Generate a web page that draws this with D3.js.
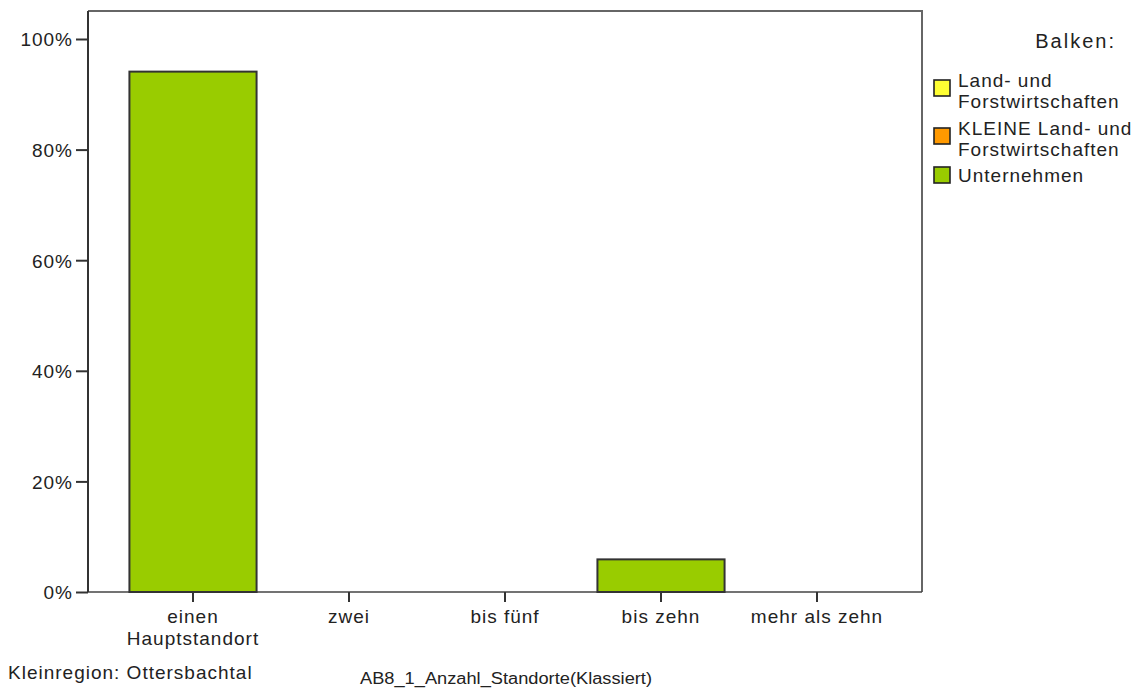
<!DOCTYPE html>
<html><head><meta charset="utf-8">
<script src="https://cdn.jsdelivr.net/npm/d3@7"></script>
<style>body{margin:0;background:#fff}svg{display:block;font-family:"Liberation Sans",Arial,sans-serif}</style>
</head><body><svg id="c" width="1138" height="688"></svg>
<script>
const categories = [["einen","Hauptstandort"],["zwei"],["bis fünf"],["bis zehn"],["mehr als zehn"]];
const unternehmen = [94.1, 0, 0, 5.9, 0];
const yTicks = [0,20,40,60,80,100];
const legendItems = [
  {lines:["Land- und","Forstwirtschaften"], color:"#ffff33"},
  {lines:["KLEINE Land- und","Forstwirtschaften"], color:"#ff9900"},
  {lines:["Unternehmen"], color:"#99cc00"}
];
const legendTitle = "Balken:";
const footLeft = "Kleinregion: Ottersbachtal";
const xTitle = "AB8_1_Anzahl_Standorte(Klassiert)";

const FONT = "Liberation Sans, Arial, sans-serif";
const svg = d3.select("#c");
const L=88, R=922, T=11, B=592;
const x = d3.scaleBand().domain(d3.range(categories.length)).range([L+27,R-27]).paddingInner(0.185).paddingOuter(0.0925);
const y = d3.scaleLinear().domain([0,100]).range([B,39]);

// frame
svg.append("path").attr("d",`M${L},${T}H${R}V${B}`).attr("fill","none").attr("stroke","#666").attr("stroke-width",2);
svg.append("line").attr("x1",L).attr("x2",R).attr("y1",B).attr("y2",B).attr("stroke","#444").attr("stroke-width",1.5);

// bars
svg.append("g").selectAll("rect").data(unternehmen).join("rect")
  .attr("x",(d,i)=>x(i)).attr("width",x.bandwidth())
  .attr("y",d=>y(d)).attr("height",d=>B-y(d))
  .attr("fill","#99cc00").attr("stroke","#333").attr("stroke-width",2);

// y axis
const ya = svg.append("g").attr("transform",`translate(${L},0)`)
  .call(d3.axisLeft(y).tickValues(yTicks).tickFormat(d=>d+"%").tickSize(12).tickPadding(3));
ya.select(".domain").attr("d",`M0,${T}V${B}`).attr("stroke","#333").attr("stroke-width",2);
ya.selectAll(".tick line").attr("stroke","#333").attr("stroke-width",2);
ya.selectAll(".tick text").attr("font-size",19).attr("letter-spacing",1).attr("fill","#222").attr("font-family",FONT).attr("dy","0.36em");

// x axis
const xa = svg.append("g").attr("transform",`translate(0,${B})`)
  .call(d3.axisBottom(x).tickFormat("").tickSize(10));
xa.select(".domain").remove();
xa.selectAll(".tick line").attr("stroke","#333").attr("stroke-width",2);
xa.selectAll(".tick").each(function(d){
  const t = d3.select(this).append("text").attr("fill","#222").attr("font-size",19).attr("letter-spacing",1)
    .attr("text-anchor","middle").attr("font-family",FONT);
  categories[d].forEach((s,k)=>t.append("tspan").attr("x",0).attr("y",31+k*22).text(s));
});

// legend
svg.append("text").attr("x",1116).attr("y",48).attr("text-anchor","end").attr("font-size",20)
  .attr("letter-spacing",2).attr("fill","#222").text(legendTitle);
const legendBase = [87, 135, 182];
const swatchTop = [80, 128, 167];
legendItems.forEach((it,i)=>{
  svg.append("rect").attr("x",934).attr("y",swatchTop[i]).attr("width",16).attr("height",16)
    .attr("fill",it.color).attr("stroke","#222").attr("stroke-width",1.6);
  const t = svg.append("text").attr("font-size",19).attr("letter-spacing",1).attr("fill","#222");
  it.lines.forEach((s,k)=>t.append("tspan").attr("x",958).attr("y",legendBase[i]+k*21).text(s));
});

// footers
svg.append("text").attr("x",8).attr("y",679).attr("font-size",19).attr("letter-spacing",1).attr("fill","#222").text(footLeft);
svg.append("text").attr("x",360).attr("y",684).attr("font-size",16).attr("fill","#222")
  .attr("font-family",FONT).attr("textLength",292).attr("lengthAdjust","spacingAndGlyphs").text(xTitle);
</script></body></html>
